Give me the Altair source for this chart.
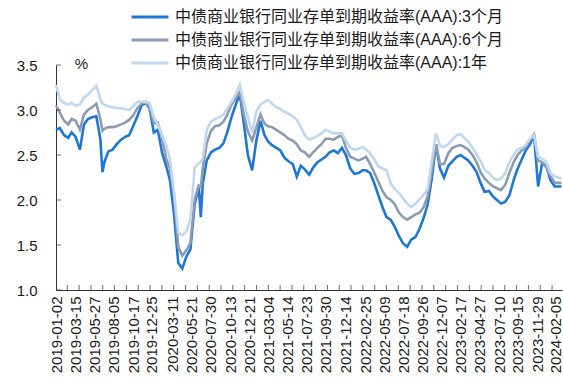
import altair as alt
import pandas as pd

dates = [
    "2019-01-02","2019-01-16","2019-02-01","2019-02-16","2019-03-01","2019-03-16","2019-04-01","2019-04-16",
    "2019-05-01","2019-05-16","2019-06-01","2019-06-16","2019-06-24","2019-07-01","2019-07-16","2019-08-01",
    "2019-08-16","2019-09-01","2019-09-16","2019-10-01","2019-10-16","2019-11-01","2019-11-16","2019-12-01","2019-12-16",
    "2020-01-01","2020-01-16","2020-02-01","2020-02-16","2020-03-01","2020-03-16","2020-04-01","2020-04-16",
    "2020-05-01","2020-05-16","2020-06-01","2020-06-16","2020-06-24","2020-07-01","2020-07-16","2020-08-01",
    "2020-08-16","2020-09-01","2020-09-16","2020-10-01","2020-10-16","2020-11-01","2020-11-16","2020-12-01","2020-12-16",
    "2021-01-01","2021-01-16","2021-02-01","2021-02-16","2021-03-01","2021-03-16","2021-04-01","2021-04-16",
    "2021-05-01","2021-05-16","2021-06-01","2021-06-16","2021-07-01","2021-07-16","2021-08-01","2021-08-16",
    "2021-09-01","2021-09-16","2021-10-01","2021-10-16","2021-11-01","2021-11-16","2021-12-01","2021-12-16",
    "2022-01-01","2022-01-16","2022-02-01","2022-02-16","2022-03-01","2022-03-16","2022-04-01","2022-04-16",
    "2022-05-01","2022-05-16","2022-06-01","2022-06-16","2022-07-01","2022-07-16","2022-08-01","2022-08-16",
    "2022-09-01","2022-09-16","2022-10-01","2022-10-16","2022-11-01","2022-11-16","2022-12-01","2022-12-16",
    "2023-01-01","2023-01-16","2023-02-01","2023-02-16","2023-03-01","2023-03-16","2023-04-01","2023-04-16",
    "2023-05-01","2023-05-16","2023-06-01","2023-06-16","2023-07-01","2023-07-16","2023-08-01","2023-08-16",
    "2023-09-01","2023-09-16","2023-10-01","2023-10-16","2023-11-01","2023-11-16","2023-12-01","2023-12-16",
    "2024-01-01","2024-01-16","2024-02-01","2024-02-26",
]

yield_3m = [
    2.78,2.80,2.72,2.69,2.75,2.70,2.56,2.84,2.90,2.92,2.93,2.68,2.31,2.42,2.54,2.56,2.62,2.67,2.70,2.72,2.82,2.93,3.05,3.08,3.02,
    2.75,2.78,2.52,2.38,2.22,1.85,1.30,1.24,1.37,1.45,1.95,2.15,1.81,2.18,2.44,2.53,2.56,2.58,2.63,2.76,2.92,3.06,3.18,2.85,2.50,
    2.33,2.65,2.88,2.72,2.65,2.61,2.58,2.55,2.47,2.43,2.40,2.26,2.38,2.34,2.28,2.36,2.42,2.45,2.48,2.53,2.55,2.52,2.58,2.50,
    2.35,2.29,2.30,2.33,2.33,2.30,2.18,2.05,1.92,1.81,1.78,1.70,1.60,1.52,1.48,1.56,1.59,1.68,1.80,1.95,2.25,2.62,2.35,2.25,
    2.38,2.43,2.48,2.50,2.47,2.44,2.38,2.31,2.19,2.09,2.10,2.04,2.00,1.96,1.98,2.05,2.22,2.35,2.45,2.55,2.62,2.72,2.15,2.41,
    2.38,2.22,2.15,2.15,
]

yield_6m = [
    3.05,2.97,2.88,2.84,2.90,2.88,2.78,2.95,3.00,3.03,3.07,2.90,2.77,2.79,2.81,2.81,2.82,2.84,2.86,2.89,2.94,3.02,3.07,3.09,3.03,
    2.85,2.86,2.68,2.46,2.35,2.05,1.48,1.38,1.44,1.52,2.00,2.16,2.14,2.35,2.63,2.77,2.82,2.83,2.87,2.95,3.06,3.13,3.20,2.95,2.76,
    2.66,2.80,2.95,2.85,2.82,2.81,2.78,2.75,2.72,2.68,2.66,2.62,2.55,2.53,2.48,2.53,2.58,2.62,2.68,2.68,2.67,2.70,2.72,2.58,
    2.48,2.46,2.44,2.46,2.48,2.40,2.30,2.20,2.10,2.03,2.00,1.95,1.86,1.81,1.78,1.81,1.84,1.86,1.92,2.04,2.33,2.62,2.40,2.40,
    2.52,2.58,2.60,2.61,2.59,2.56,2.50,2.42,2.31,2.24,2.19,2.15,2.13,2.11,2.17,2.30,2.42,2.50,2.55,2.59,2.67,2.73,2.44,2.42,
    2.36,2.27,2.19,2.19,
]

yield_1y = [
    3.28,3.12,3.08,3.06,3.08,3.05,3.06,3.14,3.17,3.22,3.27,3.12,3.07,3.06,3.04,3.03,3.02,3.02,3.01,3.00,3.04,3.09,3.09,3.09,3.08,
    2.92,2.84,2.72,2.60,2.45,2.10,1.64,1.61,1.65,1.78,2.36,2.41,2.42,2.46,2.78,2.87,2.90,2.92,2.95,3.02,3.09,3.18,3.28,3.08,2.92,
    2.75,2.98,3.06,3.09,3.11,3.07,3.03,3.01,2.98,2.96,2.93,2.89,2.81,2.72,2.67,2.69,2.71,2.74,2.78,2.76,2.74,2.74,2.74,2.66,
    2.58,2.56,2.57,2.59,2.56,2.52,2.45,2.37,2.35,2.33,2.18,2.12,2.08,2.02,1.96,1.92,1.96,2.01,2.06,2.12,2.45,2.74,2.60,2.59,
    2.62,2.67,2.72,2.73,2.69,2.65,2.58,2.51,2.43,2.34,2.30,2.25,2.22,2.24,2.30,2.42,2.50,2.56,2.58,2.61,2.68,2.72,2.48,2.46,
    2.42,2.30,2.26,2.24,
]

series_names = [
    "中债商业银行同业存单到期收益率(AAA):3个月",
    "中债商业银行同业存单到期收益率(AAA):6个月",
    "中债商业银行同业存单到期收益率(AAA):1年",
]
series_colors = ["#1F77D4", "#8C9BB1", "#BFD8EF"]

label_dates = [
    "2019-01-02","2019-03-15","2019-05-27","2019-08-05","2019-10-17","2019-12-25","2020-03-11",
    "2020-05-21","2020-07-30","2020-10-13","2020-12-21","2021-03-04","2021-05-14","2021-07-23",
    "2021-09-30","2021-12-14","2022-02-25","2022-05-09","2022-07-18","2022-09-26","2022-12-07",
    "2023-02-17","2023-04-27","2023-07-10","2023-09-15","2023-11-29","2024-02-05",
]
y_ticks = [1.0, 1.5, 2.0, 2.5, 3.0, 3.5]
x_start, x_end = "2019-01-02", "2024-02-28"

FONT = "Liberation Sans, Noto Sans CJK SC"


def dt(s):
    y, m, d = (int(p) for p in s.split("-"))
    return alt.DateTime(year=y, month=m, date=d, utc=True)


rows = []
for name, vals in zip(series_names, [yield_3m, yield_6m, yield_1y]):
    for d, v in zip(dates, vals):
        rows.append({"date": d, "value": v, "series": name})
df = pd.DataFrame(rows)

minor_ticks = pd.DataFrame({"date": pd.date_range("2019-02-13", x_end, freq="44D").strftime("%Y-%m-%d")})
ytick_df = pd.DataFrame({"v": y_ticks})

x_scale = alt.Scale(type="utc", domain=[dt(x_start), dt(x_end)])
y_scale = alt.Scale(domain=[1.0, 3.5], nice=False)

x_axis = alt.Axis(
    values=[dt(s) for s in label_dates],
    labelExpr="utcFormat(datum.value, '%Y-%m-%d')",
    labelAngle=270, labelFontSize=15, labelFont=FONT, labelColor="#1a1a1a",
    labelPadding=6, ticks=False, tickSize=0, grid=False, title=None,
    labelOverlap=False, labelBound=False, labelFlush=False,
    domainColor="#333333", domainWidth=1,
)
y_axis = alt.Axis(
    values=y_ticks, format=".1f", labelFontSize=15, labelFont=FONT, labelColor="#1a1a1a",
    labelPadding=19, ticks=False, tickSize=0, grid=False,
    domainColor="#333333", domainWidth=1,
    title="%", titleAngle=0, titleX=25, titleY=-2, titleFontSize=15, titleFont=FONT,
    titleFontWeight="normal", titleColor="#1a1a1a", titleAlign="center", titleBaseline="middle",
)

legend = alt.Legend(
    orient="none", legendX=74, legendY=-58, title=None, direction="vertical",
    symbolType="stroke", symbolSize=1369, symbolStrokeWidth=3, clipHeight=20, rowPadding=3,
    labelFontSize=16, labelFont=FONT, labelColor="#1a1a1a", labelOffset=5, labelLimit=500,
)

color = alt.Color("series:N", scale=alt.Scale(domain=series_names, range=series_colors), legend=legend)

xticks = alt.Chart(minor_ticks).mark_tick(orient="vertical", size=5, thickness=1, yOffset=-2.5, color="#333333").encode(
    x=alt.X("date:T", scale=x_scale, axis=x_axis),
    y=alt.YDatum(1.0, scale=y_scale, axis=y_axis),
)
yticks = alt.Chart(ytick_df).mark_tick(orient="horizontal", size=5, thickness=1, xOffset=2.5, color="#333333").encode(
    y=alt.Y("v:Q", scale=y_scale, axis=y_axis),
    x=alt.XDatum(dt(x_start), scale=x_scale, axis=x_axis),
)

layers = []
for name in series_names:
    layers.append(
        alt.Chart(df).transform_filter(alt.datum.series == name)
        .mark_line(strokeWidth=2.6)
        .encode(
            x=alt.X("date:T", scale=x_scale, axis=x_axis),
            y=alt.Y("value:Q", scale=y_scale, axis=y_axis),
            color=color,
        )
    )

chart = alt.layer(*layers, xticks, yticks).properties(
    width=506, height=225,
    autosize=alt.AutoSizeParams(type="none"),
    padding={"left": 56, "top": 65, "right": 1, "bottom": 91},
    background="white",
).configure_view(stroke=None)

chart.save("out.html", embed_options={"renderer": "svg", "actions": False})
